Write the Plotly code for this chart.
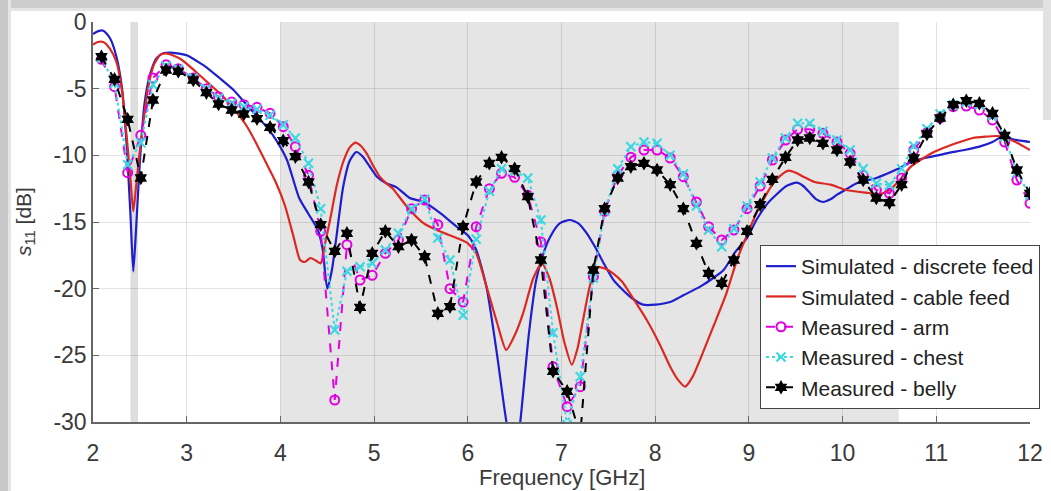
import plotly.graph_objects as go

# ---------------- data ----------------
freq_meas = [2.09, 2.23, 2.37, 2.51, 2.64, 2.78, 2.91, 3.07, 3.21, 3.34, 3.48, 3.61, 3.75, 3.89,
             4.03, 4.16, 4.30, 4.43, 4.58, 4.71, 4.85, 4.98, 5.12, 5.26, 5.40, 5.54, 5.68, 5.81,
             5.95, 6.09, 6.23, 6.36, 6.50, 6.64, 6.78, 6.91, 7.06, 7.20, 7.34, 7.46, 7.60, 7.74,
             7.88, 8.02, 8.16, 8.30, 8.44, 8.57, 8.71, 8.84, 8.98, 9.12, 9.25, 9.39, 9.52, 9.65,
             9.79, 9.94, 10.08, 10.22, 10.36, 10.50, 10.63, 10.76, 10.90, 11.04, 11.18, 11.32,
             11.46, 11.60, 11.73, 11.86, 12.00]

meas_arm = [-2.8, -4.85, -11.3, -8.5, -4.2, -3.2, -3.5, -4.2, -5.0, -5.6, -6.0, -6.2, -6.4, -6.85,
            -7.85, -9.35, -11.5, -15.7, -28.35, -16.7, -19.35, -19.0, -17.35, -16.35, -14.0, -13.35,
            -15.2, -20.0, -21.0, -15.35, -12.5, -11.35, -11.65, -13.0, -16.5, -25.85, -28.85, -27.35,
            -19.1, -14.2, -11.5, -10.15, -9.6, -9.6, -10.2, -11.6, -13.5, -15.35, -16.35, -15.6,
            -14.0, -12.3, -10.35, -8.85, -8.05, -8.05, -8.35, -9.0, -9.85, -11.5, -12.6, -12.85,
            -11.7, -9.6, -8.3, -7.2, -6.35, -6.3, -6.6, -7.35, -9.0, -11.85, -13.6]

meas_chest = [-2.7, -4.6, -10.7, -9.05, -4.7, -3.3, -3.55, -4.2, -5.0, -5.7, -6.1, -6.35, -6.55, -7.0,
              -7.7, -8.7, -10.6, -14.0, -23.1, -18.7, -18.35, -18.1, -17.1, -15.85, -14.0, -13.3,
              -16.2, -17.85, -22.0, -16.3, -12.7, -11.0, -11.2, -11.7, -14.85, -23.3, -30.2, -26.6,
              -19.2, -14.2, -11.0, -9.35, -9.0, -9.1, -10.0, -11.4, -13.8, -15.6, -16.85, -15.5,
              -13.8, -12.0, -10.2, -8.7, -7.6, -7.6, -8.2, -8.85, -9.6, -11.0, -12.1, -12.25,
              -11.0, -9.3, -8.0, -6.9, -6.2, -6.0, -6.2, -7.0, -8.6, -11.3, -13.0]

meas_belly = [-2.6, -4.3, -7.3, -11.7, -5.85, -3.6, -3.7, -4.35, -5.3, -6.15, -6.6, -6.9, -7.25, -7.9,
              -8.9, -10.1, -12.0, -15.2, -17.2, -15.85, -21.4, -17.35, -15.7, -16.85, -16.35, -17.6,
              -21.85, -21.35, -15.35, -12.0, -10.6, -10.15, -11.0, -13.1, -17.85, -26.2, -27.7, -31.0,
              -18.6, -14.0, -11.7, -10.85, -10.6, -11.1, -12.2, -14.0, -16.6, -18.85, -19.6, -17.85,
              -15.7, -13.7, -11.8, -10.15, -8.85, -8.7, -9.1, -9.6, -10.5, -11.85, -13.2, -13.55,
              -12.2, -10.2, -8.4, -7.2, -6.2, -5.9, -6.1, -6.85, -8.5, -11.1, -12.85]

freq_sim_discrete = [2.00, 2.05, 2.11, 2.18, 2.25, 2.31, 2.36, 2.40, 2.43, 2.46, 2.50, 2.55, 2.61,
                     2.68, 2.75, 2.82, 2.90, 3.00, 3.10, 3.21, 3.35, 3.50, 3.65, 3.85, 3.95, 4.07,
                     4.20, 4.30, 4.40, 4.45, 4.50, 4.55, 4.60, 4.67, 4.74, 4.81, 4.88, 4.95, 5.03,
                     5.13, 5.24, 5.38, 5.53, 5.71, 5.88, 6.00, 6.09, 6.20, 6.31, 6.41, 6.50, 6.56,
                     6.65, 6.73, 6.80, 6.88, 6.98, 7.09, 7.18, 7.27, 7.36, 7.45, 7.55, 7.62, 7.75,
                     7.87, 8.00, 8.16, 8.30, 8.48, 8.62, 8.73, 8.85, 8.98, 9.08, 9.20, 9.30, 9.40,
                     9.51, 9.58, 9.65, 9.72, 9.79, 9.87, 9.94, 10.05, 10.15, 10.36, 10.58, 10.76,
                     10.95, 11.11, 11.30, 11.46, 11.60, 11.73, 11.80, 11.90, 12.00]
s11_sim_discrete = [-0.9, -0.7, -0.65, -1.2, -2.6, -5.0, -9.35, -14.5, -18.7, -15.5, -10.5, -6.1, -3.9,
                    -2.7, -2.35, -2.3, -2.35, -2.5, -2.9, -3.4, -4.2, -5.1, -6.3, -7.85, -8.8, -10.35,
                    -13.2, -14.4, -15.6, -17.0, -20.0, -18.6, -16.0, -12.35, -10.4, -9.75, -10.1, -10.8,
                    -11.6, -12.1, -12.4, -13.2, -13.5, -14.35, -15.35, -16.0, -17.1, -19.9, -24.85,
                    -29.9, -33.0, -30.0, -23.5, -19.35, -17.5, -16.1, -15.1, -14.85, -15.1, -15.85,
                    -16.9, -18.1, -19.3, -19.85, -20.7, -21.2, -21.2, -21.0, -20.5, -19.85, -19.2,
                    -18.6, -17.3, -16.2, -14.85, -13.6, -12.9, -12.3, -12.05, -12.3, -12.8, -13.3,
                    -13.5, -13.3, -12.95, -12.5, -12.1, -11.7, -11.05, -10.4, -10.1, -9.85, -9.6,
                    -9.35, -9.0, -8.5, -8.75, -8.9, -9.0]

freq_sim_cable = [2.00, 2.05, 2.11, 2.18, 2.25, 2.31, 2.36, 2.40, 2.43, 2.46, 2.50, 2.55, 2.59, 2.65,
                  2.72, 2.78, 2.85, 2.95, 3.10, 3.25, 3.39, 3.50, 3.64, 3.75, 3.85, 3.95, 4.05, 4.14,
                  4.21, 4.26, 4.32, 4.38, 4.43, 4.48, 4.53, 4.60, 4.67, 4.74, 4.80, 4.86, 4.92, 5.00,
                  5.06, 5.13, 5.20, 5.35, 5.53, 5.70, 5.88, 6.00, 6.09, 6.20, 6.31, 6.41, 6.50, 6.59,
                  6.70, 6.79, 6.87, 6.95, 7.03, 7.11, 7.17, 7.23, 7.31, 7.39, 7.47, 7.55, 7.65, 7.73,
                  7.91, 8.05, 8.16, 8.25, 8.32, 8.40, 8.48, 8.62, 8.76, 8.88, 9.08, 9.18, 9.26, 9.34,
                  9.42, 9.50, 9.58, 9.70, 9.87, 10.04, 10.25, 10.40, 10.50, 10.61, 10.72, 10.83,
                  10.96, 11.11, 11.25, 11.39, 11.52, 11.64, 11.72, 11.80, 11.90, 12.00]
s11_sim_cable = [-1.7, -1.5, -1.5, -2.0, -3.0, -5.2, -8.6, -11.8, -14.2, -12.3, -9.6, -6.8, -4.85, -3.2,
                 -2.45, -2.35, -2.5, -2.85, -3.75, -4.7, -5.6, -6.5, -7.8, -9.2, -10.6, -12.0, -13.8,
                 -16.1, -17.85, -18.0, -17.7, -17.9, -18.1, -16.5, -14.85, -12.3, -10.5, -9.4, -9.05,
                 -9.3, -9.85, -10.9, -11.6, -12.1, -12.5, -13.85, -15.1, -15.7, -16.2, -16.6, -17.35,
                 -19.85, -22.5, -24.6, -23.5, -21.85, -19.2, -18.1, -19.2, -21.35, -24.0, -25.7, -24.5,
                 -22.35, -19.6, -18.4, -18.5, -18.85, -19.5, -20.35, -22.35, -24.2, -25.85, -26.9,
                 -27.35, -26.6, -25.3, -22.85, -20.35, -17.7, -14.35, -13.0, -12.1, -11.5, -11.15,
                 -11.3, -11.6, -12.0, -12.2, -12.6, -12.8, -12.9, -12.6, -11.85, -10.9, -10.35, -9.8,
                 -9.35, -9.0, -8.7, -8.6, -8.55, -8.6, -8.85, -9.2, -9.6]

series_names = ["Simulated - discrete feed", "Simulated - cable feed",
                "Measured - arm", "Measured - chest", "Measured - belly"]
x_ticks = [2, 3, 4, 5, 6, 7, 8, 9, 10, 11, 12]
y_ticks = [0, -5, -10, -15, -20, -25, -30]
ism_band = [2.40, 2.48]
uwb_band = [4.0, 10.6]
x_title = "Frequency [GHz]"
y_title = "<i>s</i><sub>11</sub> [dB]"

# ---------------- figure ----------------
FONT = "Liberation Sans, Arial, sans-serif"
TXT = "#3a3a3a"

fig = go.Figure()
fig.add_trace(go.Scatter(x=freq_sim_discrete, y=s11_sim_discrete, mode="lines", name=series_names[0],
                         line=dict(color="rgb(30,30,205)", width=2.2, shape="spline", smoothing=0.6)))
fig.add_trace(go.Scatter(x=freq_sim_cable, y=s11_sim_cable, mode="lines", name=series_names[1],
                         line=dict(color="rgb(220,40,35)", width=2.2, shape="spline", smoothing=0.6)))
fig.add_trace(go.Scatter(x=freq_meas, y=meas_arm, mode="lines+markers", name=series_names[2],
                         line=dict(color="rgb(225,0,225)", width=2, dash="dash"),
                         marker=dict(symbol="circle-open", size=9, color="rgb(225,0,225)",
                                     line=dict(width=2, color="rgb(225,0,225)"))))
fig.add_trace(go.Scatter(x=freq_meas, y=meas_chest, mode="lines+markers", name=series_names[3],
                         line=dict(color="rgb(60,215,225)", width=2, dash="dot"),
                         marker=dict(symbol="x-thin-open", size=9, color="rgb(60,215,225)",
                                     line=dict(width=2.2, color="rgb(60,215,225)"))))
fig.add_trace(go.Scatter(x=freq_meas, y=meas_belly, mode="lines+markers", name=series_names[4],
                         line=dict(color="black", width=2, dash="dash"),
                         marker=dict(symbol="hexagram", size=11, color="black")))

shapes = []
# shaded bands
for band, col in [(ism_band, "rgb(222,222,222)"), (uwb_band, "rgb(229,229,229)")]:
    shapes.append(dict(type="rect", xref="x", yref="paper", x0=band[0], x1=band[1], y0=0, y1=1,
                       fillcolor=col, line=dict(width=0), layer="below"))

# outer frame (shadow of the pasted figure)
def px_x(p):
    return (p - 93) / 937.0

def px_y(p):
    return (422 - p) / 400.0

frame = [
    (0, 0, 1051, 8, "rgb(205,205,205)"),
    (0, 8, 1051, 11, "rgb(228,228,228)"),
    (0, 0, 8, 491, "rgb(200,200,200)"),
    (8, 0, 11, 491, "rgb(228,228,228)"),
    (1043, 0, 1051, 120, "rgb(225,225,225)"),
]
for x0, y0, x1, y1, c in frame:
    shapes.append(dict(type="rect", xref="paper", yref="paper", x0=px_x(x0), x1=px_x(x1),
                       y0=px_y(y0), y1=px_y(y1), fillcolor=c, line=dict(width=0), layer="below"))

annotations = [
    dict(text=x_title, xref="paper", yref="paper", x=0.5, y=px_y(477), xanchor="center",
         yanchor="middle", showarrow=False, font=dict(size=22, color=TXT, family=FONT)),
    dict(text=y_title, xref="paper", yref="paper", x=px_x(25), y=0.5, xanchor="center",
         yanchor="middle", textangle=-90, showarrow=False, font=dict(size=21, color=TXT, family=FONT)),
]

fig.update_layout(
    width=1051, height=491,
    margin=dict(l=93, r=21, t=22, b=69, autoexpand=False),
    paper_bgcolor="white", plot_bgcolor="white",
    font=dict(family=FONT, color=TXT, size=21),
    shapes=shapes,
    annotations=annotations,
    showlegend=True,
    legend=dict(x=px_x(760), y=px_y(245), xanchor="left", yanchor="top",
                bgcolor="white", bordercolor="#444", borderwidth=1,
                font=dict(family=FONT, size=21, color="#222"), tracegroupgap=0),
    xaxis=dict(range=[2, 12], tickvals=x_ticks, ticktext=[str(v) for v in x_ticks],
               showgrid=True, gridcolor="rgba(0,0,0,0.11)", gridwidth=1, automargin=False,
               zeroline=False, showline=True, linecolor="#666", linewidth=1.5,
               ticks="inside", ticklen=6, tickcolor="#666", tickfont=dict(size=23, color=TXT),
               ticklabelstandoff=10),
    yaxis=dict(range=[-30, 0], tickvals=y_ticks, ticktext=[str(v) for v in y_ticks],
               showgrid=True, gridcolor="rgba(0,0,0,0.11)", gridwidth=1, automargin=False,
               zeroline=False, showline=True, linecolor="#666", linewidth=1.5,
               ticks="inside", ticklen=6, tickcolor="#666", tickfont=dict(size=23, color=TXT)),
)

fig.write_html("out.html")
